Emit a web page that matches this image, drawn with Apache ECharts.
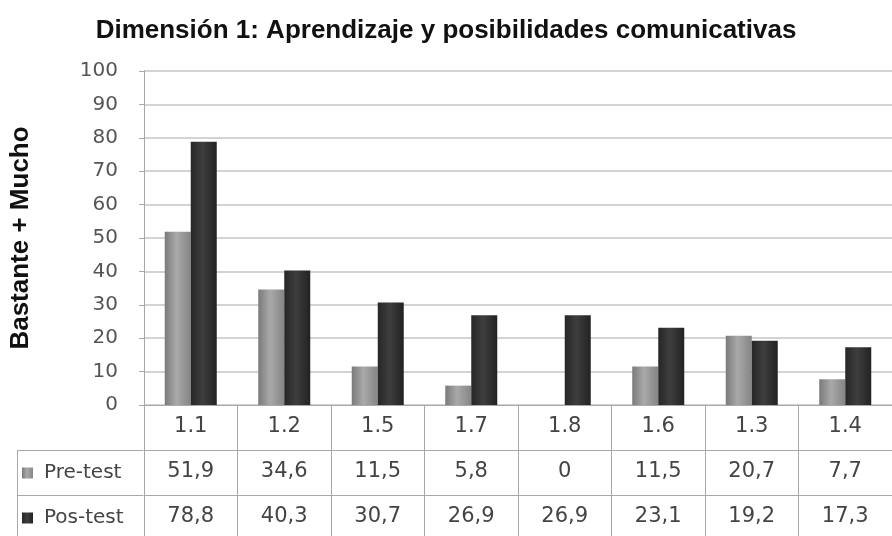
<!DOCTYPE html>
<html>
<head>
<meta charset="utf-8">
<title>Dimensión 1</title>
<script src="https://cdn.jsdelivr.net/npm/echarts@6/dist/echarts.min.js"></script>
<style>
    html, body {margin: 0; padding: 0; background: #fff;}
    #main {width: 892px; height: 536px;}
</style>
</head>
<body>
<div id="main"></div>
<script>
var categories = ['1.1', '1.2', '1.5', '1.7', '1.8', '1.6', '1.3', '1.4'];
var preTest = [51.9, 34.6, 11.5, 5.8, 0, 11.5, 20.7, 7.7];
var posTest = [78.8, 40.3, 30.7, 26.9, 26.9, 23.1, 19.2, 17.3];
var seriesNames = ['Pre-test', 'Pos-test'];
var yTicks = [0, 10, 20, 30, 40, 50, 60, 70, 80, 90, 100];

// numeros con coma decimal, como en la tabla original
function fmt(v) {
    return String(v).replace('.', ',');
}

var chartDom = document.getElementById('main');
var myChart = echarts.init(chartDom);
var option;

var lineColor = '#a8a8a8';
var labelColor = '#444';
var tableFont = 'DejaVu Sans';

option = {
    backgroundColor: '#fff',
    animation: false,
    title: {
        text: 'Dimensión 1: Aprendizaje y posibilidades comunicativas',
        left: 'center',
        top: 13,
        textStyle: {
            fontFamily: 'Liberation Sans',
            fontWeight: 'bold',
            fontSize: 26,
            color: '#111'
        }
    },
    legend: {
        orient: 'vertical',
        left: 22,
        top: 461,
        padding: 0,
        height: 75,
        itemWidth: 11,
        itemHeight: 11,
        itemGap: 21,
        icon: 'rect',
        data: seriesNames,
        textStyle: {
            fontFamily: tableFont,
            fontSize: 20,
            lineHeight: 24,
            padding: [0, 0, 0, 6],
            color: labelColor
        }
    },
    grid: {
        left: 143,
        right: 0,
        top: 71,
        bottom: 131
    },
    xAxis: [
        {
            type: 'category',
            data: categories,
            position: 'bottom',
            axisLine: {lineStyle: {color: lineColor}},
            axisTick: {show: true, length: 131, lineStyle: {color: lineColor}},
            axisLabel: {margin: 11, fontFamily: tableFont, fontSize: 21, color: labelColor}
        },
        {
            type: 'category',
            data: categories,
            position: 'bottom',
            offset: 45,
            axisLine: {lineStyle: {color: lineColor}},
            axisTick: {show: false},
            axisLabel: {
                margin: 11, fontFamily: tableFont, fontSize: 21, color: labelColor,
                formatter: function (v, i) { return fmt(preTest[i]); }
            }
        },
        {
            type: 'category',
            data: categories,
            position: 'bottom',
            offset: 90,
            axisLine: {lineStyle: {color: lineColor}},
            axisTick: {show: false},
            axisLabel: {
                margin: 11, fontFamily: tableFont, fontSize: 21, color: labelColor,
                formatter: function (v, i) { return fmt(posTest[i]); }
            }
        }
    ],
    yAxis: {
        type: 'value',
        min: yTicks[0],
        max: yTicks[yTicks.length - 1],
        interval: yTicks[1] - yTicks[0],
        name: 'Bastante + Mucho',
        nameLocation: 'middle',
        nameGap: 110,
        nameTextStyle: {
            fontFamily: 'Liberation Sans',
            fontWeight: 'bold',
            fontSize: 26,
            color: '#111'
        },
        axisLine: {show: true, lineStyle: {color: lineColor}},
        axisTick: {show: true, length: 5, lineStyle: {color: lineColor}},
        axisLabel: {margin: 26, fontFamily: tableFont, fontSize: 20, color: '#555'},
        splitLine: {lineStyle: {color: '#c4c4c4', width: 1.5}}
    },
    series: [
        {
            name: seriesNames[0],
            type: 'bar',
            data: preTest,
            barWidth: 26,
            barGap: '0%',
            itemStyle: {
                color: new echarts.graphic.LinearGradient(0, 0, 1, 0, [
                    {offset: 0, color: '#7a7a7a'},
                    {offset: 0.45, color: '#a9a9a9'},
                    {offset: 1, color: '#858585'}
                ])
            }
        },
        {
            name: seriesNames[1],
            type: 'bar',
            data: posTest,
            barWidth: 26,
            itemStyle: {
                color: new echarts.graphic.LinearGradient(0, 0, 1, 0, [
                    {offset: 0, color: '#262626'},
                    {offset: 0.45, color: '#3e3e3e'},
                    {offset: 1, color: '#222'}
                ])
            }
        }
    ],
    // bordes de la columna de leyenda de la tabla
    graphic: [
        {type: 'line', shape: {x1: 17, y1: 450.5, x2: 143, y2: 450.5}, style: {stroke: lineColor, lineWidth: 1}},
        {type: 'line', shape: {x1: 17, y1: 495.5, x2: 143, y2: 495.5}, style: {stroke: lineColor, lineWidth: 1}},
        {type: 'line', shape: {x1: 17.5, y1: 450, x2: 17.5, y2: 536}, style: {stroke: lineColor, lineWidth: 1}}
    ]
};

option && myChart.setOption(option);
</script>
</body>
</html>
